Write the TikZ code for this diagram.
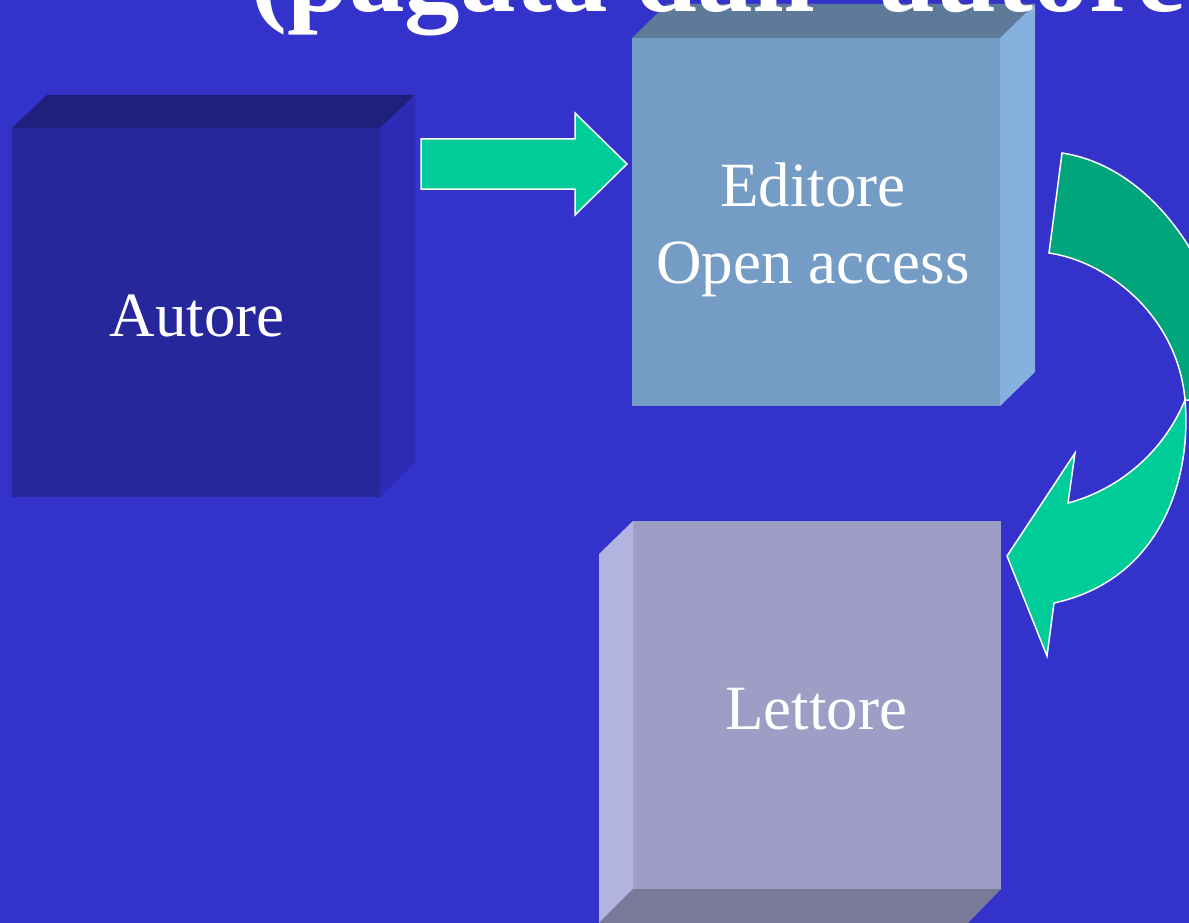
\documentclass[tikz,border=0pt]{standalone}
\usepackage{fontspec}
\setmainfont{Liberation Serif}
\definecolor{sfondo}{HTML}{3333CC}
\definecolor{autfront}{HTML}{26279A}
\definecolor{auttop}{HTML}{1F1F7C}
\definecolor{autside}{HTML}{2B2BB5}
\definecolor{edfront}{HTML}{759CC5}
\definecolor{edtop}{HTML}{5D7B98}
\definecolor{edside}{HTML}{86B1DF}
\definecolor{letfront}{HTML}{9D9DC5}
\definecolor{letside}{HTML}{B3B3E0}
\definecolor{letbottom}{HTML}{7A7A98}
\definecolor{verde}{HTML}{00CC99}
\definecolor{verdescuro}{HTML}{00A57B}
\tikzset{
  lbl/.style={text=white, font=\fontsize{63}{77}\selectfont, align=center, anchor=base},
  freccia/.style={draw=white, line width=1.5pt, line join=miter},
}
\begin{document}
\begin{tikzpicture}[x=1pt,y=-1pt]
\fill[sfondo] (0,0) rectangle (1189,923);
\clip (0,0) rectangle (1189,923);
% Autore
\coordinate (A1) at (12,128);
\coordinate (A2) at (380,128);
\coordinate (A3) at (380,497);
\coordinate (A4) at (12,497);
\fill[autfront] (A1) -- (A2) -- (A3) -- (A4) -- cycle;
\fill[auttop] (A1) -- ++(35,-33) -- ++(368,0) -- (A2) -- cycle;
\fill[autside] (A2) -- ++(35,-33) -- ++(0,368) -- (A3) -- cycle;
% Editore
\coordinate (E1) at (632,38);
\coordinate (E2) at (1000,38);
\coordinate (E3) at (1000,406);
\coordinate (E4) at (632,406);
\fill[edfront] (E1) -- (E2) -- (E3) -- (E4) -- cycle;
\fill[edtop] (E1) -- ++(35,-34) -- ++(368,0) -- (E2) -- cycle;
\fill[edside] (E2) -- ++(35,-34) -- ++(0,368) -- (E3) -- cycle;
% Lettore
\coordinate (L1) at (633,521);
\coordinate (L2) at (1001,521);
\coordinate (L3) at (1001,889);
\coordinate (L4) at (633,889);
\fill[letfront] (L1) -- (L2) -- (L3) -- (L4) -- cycle;
\fill[letside] (L1) -- ++(-34,33) -- ++(0,369) -- (L4) -- cycle;
\fill[letbottom] (L4) -- ++(-34,34) -- ++(369,0) -- (L3) -- cycle;
% frecce
\draw[freccia, fill=verde] (421,139) -- (575,139) -- (575,113) -- (627,164)
  -- (575,215) -- (575,189) -- (421,189) -- cycle;
\coordinate (T) at (1185,400);
\draw[freccia, fill=verdescuro] (1062,153) -- (1049,253)
  .. controls (1110,262) and (1178,318) .. (T) -- (1250,400) -- (1250,330)
  -- (1225,330) .. controls (1200,240) and (1140,165) .. (1062,153) -- cycle;
\draw[freccia, fill=verde] (T) .. controls (1192,480) and (1160,580) .. (1054,603)
  -- (1047,656) -- (1007,556) -- (1075,453) -- (1068,503)
  .. controls (1110,492) and (1160,460) .. (T) -- cycle;
% testi
\node[lbl] (autore) at (197,336) {Autore};
\node[lbl] (editore) at (813,283) {Editore\\Open access};
\node[lbl] (lettore) at (816,729) {Lettore};
\node[anchor=base west, text=white, font=\fontsize{111}{111}\selectfont\bfseries]
  (titolo) at (247,12) {(pagata dall' autore};
\end{tikzpicture}
\end{document}
